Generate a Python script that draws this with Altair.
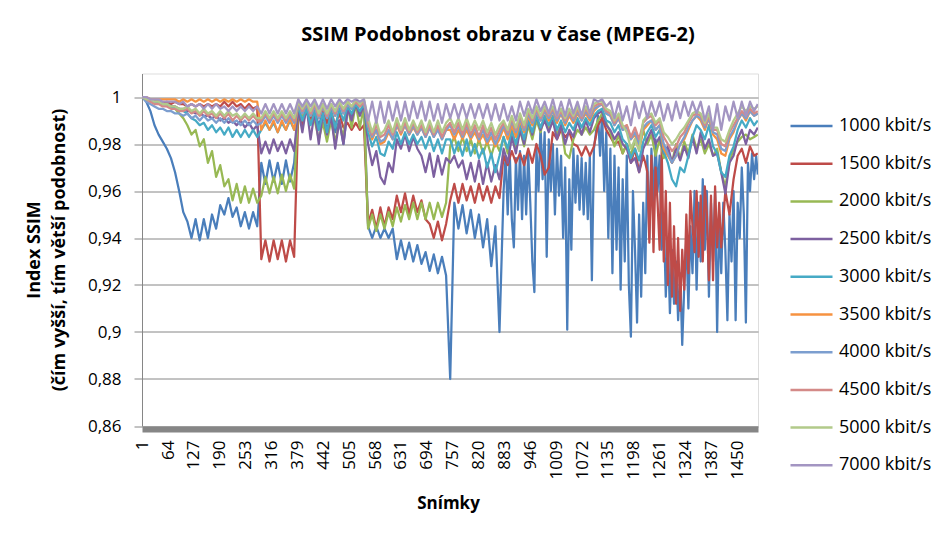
import altair as alt
import pandas as pd

frames = [1 + 10 * i for i in range(150)] + [1500]
# Finer readings (every 5th frame) where the low bit-rate curves are very jagged
blue_detail_frames = list(range(881, 1500, 5)) + [1500]
red_detail_frames = list(range(1226, 1407, 5))

series_names = ["1000 kbit/s", "1500 kbit/s", "2000 kbit/s", "2500 kbit/s", "3000 kbit/s",
                "3500 kbit/s", "4000 kbit/s", "4500 kbit/s", "5000 kbit/s", "7000 kbit/s"]
series_colors = ["#4A7EBB", "#BE4B48", "#98B954", "#7D60A0", "#46AAC5",
                 "#F69240", "#7C9ECF", "#D48A88", "#B2CA8A", "#A395C2"]

ssim_1000 = [
    1.000, 0.998, 0.994, 0.988, 0.984, 0.981, 0.978, 0.974, 0.968, 0.960,
    0.951, 0.947, 0.940, 0.948, 0.939, 0.948, 0.940, 0.950, 0.944, 0.954,
    0.950, 0.957, 0.949, 0.953, 0.945, 0.951, 0.944, 0.951, 0.945, 0.972,
    0.963, 0.973, 0.964, 0.972, 0.963, 0.973, 0.964, 0.972, 0.995, 0.993,
    0.996, 0.990, 0.994, 0.988, 0.993, 0.986, 0.992, 0.985, 0.990, 0.980,
    0.994, 0.992, 0.997, 0.993, 0.997, 0.945, 0.940, 0.945, 0.940, 0.944,
    0.940, 0.944, 0.931, 0.939, 0.931, 0.938, 0.930, 0.937, 0.929, 0.934,
    0.926, 0.933, 0.925, 0.932, 0.924, 0.880, 0.955, 0.944, 0.954, 0.942,
    0.952, 0.940, 0.950, 0.936, 0.948, 0.928, 0.945, 0.900, 0.975, 0.948,
    0.972, 0.950, 0.970, 0.945, 0.968, 0.917, 0.975, 0.960, 0.985, 0.932,
    0.980, 0.958, 0.975, 0.955, 0.901, 0.965, 0.975, 0.955, 0.970, 0.922,
    0.975, 0.990, 0.994, 0.985, 0.935, 0.970, 0.920, 0.960, 0.918, 0.898,
    0.950, 0.904, 0.955, 0.975, 0.935, 0.980, 0.920, 0.945, 0.912, 0.930,
    0.905, 0.925, 0.895, 0.920, 0.945, 0.915, 0.960, 0.930, 0.955, 0.910,
    0.950, 0.905, 0.955, 0.935, 0.905, 0.950, 0.970, 0.904, 0.975, 0.968,
    0.967,
]
ssim_1000_detail = [
    0.960, 0.975, 0.950, 0.976, 0.948, 0.936, 0.974, 0.952, 0.977, 0.948,
    0.975, 0.950, 0.976, 0.955, 0.930, 0.917, 0.978, 0.960, 0.988, 0.965,
    0.985, 0.932, 0.982, 0.960, 0.980, 0.950, 0.978, 0.958, 0.975, 0.940,
    0.970, 0.901, 0.965, 0.935, 0.978, 0.955, 0.975, 0.952, 0.974, 0.950,
    0.972, 0.948, 0.975, 0.922, 0.978, 0.985, 0.992, 0.975, 0.994, 0.960,
    0.985, 0.940, 0.978, 0.925, 0.975, 0.935, 0.970, 0.918, 0.965, 0.930,
    0.975, 0.920, 0.898, 0.960, 0.935, 0.904, 0.950, 0.915, 0.955, 0.925,
    0.975, 0.940, 0.978, 0.955, 0.982, 0.960, 0.975, 0.935, 0.950, 0.915,
    0.940, 0.908, 0.935, 0.912, 0.930, 0.905, 0.925, 0.8945, 0.920, 0.940,
    0.910, 0.945, 0.925, 0.960, 0.918, 0.955, 0.930, 0.965, 0.935, 0.960,
    0.915, 0.955, 0.930, 0.960, 0.900, 0.950, 0.925, 0.955, 0.935, 0.905,
    0.950, 0.930, 0.960, 0.905, 0.955, 0.940, 0.970, 0.950, 0.904, 0.972,
    0.960, 0.976, 0.965, 0.975, 0.967,
]

ssim_1500 = [
    1.000, 0.999, 0.999, 0.998, 0.998, 0.997, 0.998, 0.997, 0.998, 0.997,
    0.997, 0.996, 0.997, 0.996, 0.997, 0.996, 0.997, 0.996, 0.997, 0.996,
    0.998, 0.996, 0.998, 0.996, 0.997, 0.995, 0.997, 0.995, 0.996, 0.931,
    0.939, 0.930, 0.939, 0.931, 0.939, 0.930, 0.939, 0.932, 0.993, 0.988,
    0.995, 0.990, 0.996, 0.991, 0.995, 0.989, 0.994, 0.988, 0.993, 0.987,
    0.989, 0.986, 0.989, 0.986, 0.988, 0.946, 0.952, 0.944, 0.953, 0.945,
    0.953, 0.948, 0.958, 0.951, 0.959, 0.950, 0.958, 0.951, 0.956, 0.948,
    0.946, 0.940, 0.947, 0.939, 0.946, 0.956, 0.963, 0.955, 0.963, 0.956,
    0.962, 0.955, 0.963, 0.956, 0.962, 0.955, 0.962, 0.957, 0.975, 0.971,
    0.977, 0.972, 0.976, 0.971, 0.978, 0.972, 0.980, 0.975, 0.967, 0.970,
    0.985, 0.982, 0.986, 0.983, 0.985, 0.980, 0.979, 0.975, 0.979, 0.975,
    0.979, 0.988, 0.991, 0.986, 0.983, 0.980, 0.981, 0.976, 0.980, 0.972,
    0.978, 0.968, 0.975, 0.960, 0.939, 0.965, 0.950, 0.975, 0.925, 0.960,
    0.912, 0.945, 0.910, 0.930, 0.950, 0.936, 0.955, 0.930, 0.960, 0.922,
    0.965, 0.936, 0.960, 0.950, 0.965, 0.975, 0.978, 0.972, 0.979, 0.975,
    0.976,
]
ssim_1500_detail = [
    0.972, 0.968, 0.938, 0.975, 0.934, 0.970, 0.955, 0.935, 0.978, 0.930,
    0.960, 0.920, 0.955, 0.915, 0.945, 0.912, 0.940, 0.909, 0.935, 0.918,
    0.950, 0.925, 0.960, 0.945, 0.934, 0.960, 0.932, 0.958, 0.930, 0.962,
    0.950, 0.922, 0.958, 0.922, 0.962, 0.936, 0.955,
]

ssim_2000 = [
    1.000, 0.999, 0.999, 0.998, 0.998, 0.997, 0.997, 0.996, 0.995, 0.993,
    0.991, 0.988, 0.984, 0.986, 0.979, 0.982, 0.972, 0.977, 0.966, 0.971,
    0.962, 0.965, 0.956, 0.963, 0.955, 0.962, 0.955, 0.961, 0.955, 0.958,
    0.966, 0.959, 0.966, 0.959, 0.967, 0.960, 0.967, 0.961, 0.996, 0.992,
    0.994, 0.989, 0.990, 0.982, 0.989, 0.981, 0.990, 0.981, 0.989, 0.983,
    0.997, 0.987, 0.997, 0.987, 0.996, 0.944, 0.950, 0.943, 0.950, 0.944,
    0.951, 0.945, 0.953, 0.947, 0.954, 0.948, 0.955, 0.948, 0.955, 0.948,
    0.955, 0.948, 0.955, 0.949, 0.955, 0.979, 0.983, 0.977, 0.983, 0.977,
    0.982, 0.976, 0.982, 0.976, 0.981, 0.975, 0.981, 0.977, 0.983, 0.976,
    0.985, 0.978, 0.986, 0.979, 0.988, 0.982, 0.990, 0.985, 0.992, 0.986,
    0.990, 0.984, 0.988, 0.976, 0.974, 0.982, 0.986, 0.984, 0.987, 0.984,
    0.986, 0.990, 0.993, 0.989, 0.985, 0.979, 0.984, 0.976, 0.980, 0.975,
    0.982, 0.978, 0.986, 0.980, 0.984, 0.975, 0.982, 0.974, 0.978, 0.972,
    0.980, 0.974, 0.981, 0.976, 0.984, 0.978, 0.982, 0.976, 0.980, 0.975,
    0.978, 0.968, 0.962, 0.972, 0.978, 0.981, 0.983, 0.984, 0.982, 0.983,
    0.984,
]

ssim_2500 = [
    1.000, 0.999, 0.999, 0.998, 0.998, 0.997, 0.997, 0.996, 0.996, 0.995,
    0.995, 0.994, 0.994, 0.993, 0.993, 0.992, 0.992, 0.991, 0.992, 0.990,
    0.991, 0.989, 0.990, 0.988, 0.990, 0.987, 0.989, 0.986, 0.988, 0.976,
    0.981, 0.976, 0.982, 0.977, 0.981, 0.976, 0.982, 0.977, 0.995, 0.985,
    0.996, 0.982, 0.994, 0.980, 0.993, 0.984, 0.992, 0.978, 0.990, 0.980,
    0.995, 0.990, 0.997, 0.992, 0.997, 0.980, 0.971, 0.977, 0.966, 0.963,
    0.972, 0.968, 0.982, 0.978, 0.984, 0.977, 0.983, 0.978, 0.975, 0.968,
    0.976, 0.966, 0.975, 0.967, 0.974, 0.972, 0.975, 0.970, 0.973, 0.965,
    0.972, 0.964, 0.973, 0.963, 0.972, 0.964, 0.971, 0.965, 0.978, 0.972,
    0.983, 0.976, 0.986, 0.980, 0.990, 0.984, 0.992, 0.986, 0.990, 0.985,
    0.990, 0.982, 0.988, 0.980, 0.986, 0.983, 0.990, 0.984, 0.990, 0.985,
    0.991, 0.993, 0.994, 0.988, 0.986, 0.982, 0.985, 0.980, 0.978, 0.972,
    0.974, 0.968, 0.978, 0.982, 0.986, 0.980, 0.983, 0.976, 0.979, 0.972,
    0.978, 0.973, 0.979, 0.974, 0.983, 0.976, 0.985, 0.978, 0.982, 0.975,
    0.976, 0.968, 0.959, 0.972, 0.975, 0.982, 0.986, 0.980, 0.986, 0.984,
    0.987,
]

ssim_3000 = [
    1.000, 0.999, 0.999, 0.998, 0.998, 0.997, 0.997, 0.996, 0.995, 0.995,
    0.994, 0.993, 0.991, 0.990, 0.988, 0.989, 0.986, 0.988, 0.985, 0.987,
    0.984, 0.987, 0.983, 0.986, 0.983, 0.986, 0.983, 0.986, 0.983, 0.986,
    0.989, 0.986, 0.989, 0.985, 0.989, 0.986, 0.990, 0.986, 0.996, 0.990,
    0.995, 0.988, 0.994, 0.986, 0.993, 0.985, 0.994, 0.987, 0.995, 0.990,
    0.996, 0.993, 0.997, 0.994, 0.997, 0.985, 0.979, 0.983, 0.976, 0.975,
    0.981, 0.978, 0.985, 0.980, 0.985, 0.980, 0.984, 0.980, 0.983, 0.978,
    0.983, 0.977, 0.982, 0.976, 0.982, 0.982, 0.976, 0.981, 0.975, 0.982,
    0.975, 0.980, 0.974, 0.978, 0.970, 0.976, 0.968, 0.975, 0.983, 0.978,
    0.986, 0.980, 0.988, 0.982, 0.990, 0.985, 0.992, 0.987, 0.992, 0.988,
    0.992, 0.986, 0.990, 0.985, 0.989, 0.986, 0.991, 0.987, 0.991, 0.988,
    0.992, 0.994, 0.995, 0.990, 0.989, 0.985, 0.988, 0.982, 0.980, 0.974,
    0.978, 0.973, 0.981, 0.985, 0.988, 0.983, 0.986, 0.977, 0.972, 0.965,
    0.962, 0.970, 0.968, 0.975, 0.983, 0.988, 0.986, 0.982, 0.988, 0.979,
    0.976, 0.968, 0.966, 0.975, 0.979, 0.986, 0.990, 0.987, 0.991, 0.988,
    0.990,
]

ssim_3500 = [
    1.000, 1.000, 0.999, 0.999, 0.999, 0.999, 0.999, 0.999, 0.999, 0.998,
    0.999, 0.998, 0.999, 0.998, 0.999, 0.998, 0.999, 0.998, 0.999, 0.998,
    0.999, 0.998, 0.999, 0.998, 0.999, 0.998, 0.999, 0.998, 0.998, 0.986,
    0.990, 0.986, 0.990, 0.985, 0.990, 0.986, 0.991, 0.986, 0.997, 0.993,
    0.997, 0.992, 0.996, 0.991, 0.996, 0.991, 0.996, 0.992, 0.997, 0.993,
    0.997, 0.995, 0.998, 0.996, 0.998, 0.988, 0.982, 0.986, 0.980, 0.981,
    0.985, 0.982, 0.988, 0.984, 0.988, 0.984, 0.987, 0.984, 0.987, 0.983,
    0.987, 0.983, 0.987, 0.982, 0.986, 0.986, 0.982, 0.986, 0.982, 0.986,
    0.982, 0.985, 0.981, 0.984, 0.980, 0.983, 0.979, 0.982, 0.987, 0.982,
    0.988, 0.983, 0.990, 0.985, 0.992, 0.988, 0.994, 0.990, 0.994, 0.990,
    0.994, 0.989, 0.993, 0.988, 0.992, 0.989, 0.993, 0.990, 0.993, 0.990,
    0.994, 0.996, 0.997, 0.993, 0.992, 0.988, 0.991, 0.986, 0.988, 0.982,
    0.984, 0.978, 0.986, 0.988, 0.990, 0.986, 0.988, 0.978, 0.975, 0.972,
    0.975, 0.980, 0.982, 0.986, 0.990, 0.992, 0.990, 0.986, 0.991, 0.984,
    0.982, 0.976, 0.975, 0.982, 0.985, 0.990, 0.993, 0.990, 0.994, 0.992,
    0.993,
]

ssim_4000 = [
    1.000, 0.998, 0.997, 0.996, 0.995, 0.995, 0.994, 0.994, 0.993, 0.993,
    0.992, 0.993, 0.991, 0.992, 0.990, 0.992, 0.990, 0.991, 0.989, 0.991,
    0.989, 0.991, 0.989, 0.990, 0.988, 0.990, 0.988, 0.990, 0.988, 0.989,
    0.992, 0.989, 0.992, 0.989, 0.992, 0.989, 0.992, 0.989, 0.997, 0.993,
    0.997, 0.992, 0.996, 0.991, 0.996, 0.991, 0.996, 0.992, 0.997, 0.993,
    0.997, 0.995, 0.998, 0.996, 0.998, 0.988, 0.983, 0.986, 0.981, 0.982,
    0.986, 0.982, 0.988, 0.985, 0.988, 0.984, 0.988, 0.984, 0.987, 0.983,
    0.987, 0.983, 0.986, 0.982, 0.986, 0.988, 0.984, 0.988, 0.983, 0.988,
    0.983, 0.987, 0.982, 0.986, 0.981, 0.985, 0.980, 0.984, 0.988, 0.984,
    0.990, 0.985, 0.991, 0.986, 0.993, 0.989, 0.994, 0.990, 0.994, 0.991,
    0.994, 0.990, 0.993, 0.989, 0.993, 0.990, 0.994, 0.990, 0.994, 0.991,
    0.995, 0.996, 0.997, 0.993, 0.992, 0.988, 0.991, 0.986, 0.987, 0.982,
    0.985, 0.980, 0.987, 0.989, 0.990, 0.986, 0.988, 0.980, 0.976, 0.972,
    0.975, 0.980, 0.983, 0.987, 0.990, 0.992, 0.991, 0.987, 0.991, 0.985,
    0.984, 0.978, 0.977, 0.983, 0.986, 0.990, 0.993, 0.991, 0.994, 0.992,
    0.993,
]

ssim_4500 = [
    1.000, 0.999, 0.998, 0.997, 0.997, 0.996, 0.996, 0.995, 0.995, 0.994,
    0.994, 0.995, 0.993, 0.994, 0.992, 0.994, 0.992, 0.993, 0.991, 0.993,
    0.991, 0.993, 0.990, 0.992, 0.990, 0.992, 0.990, 0.992, 0.990, 0.990,
    0.993, 0.990, 0.993, 0.990, 0.993, 0.990, 0.993, 0.990, 0.998, 0.994,
    0.998, 0.993, 0.997, 0.992, 0.997, 0.992, 0.997, 0.993, 0.998, 0.994,
    0.998, 0.996, 0.998, 0.996, 0.998, 0.989, 0.984, 0.988, 0.983, 0.984,
    0.988, 0.984, 0.989, 0.985, 0.989, 0.985, 0.989, 0.985, 0.988, 0.984,
    0.988, 0.984, 0.988, 0.983, 0.987, 0.989, 0.985, 0.989, 0.984, 0.989,
    0.984, 0.988, 0.983, 0.988, 0.983, 0.987, 0.982, 0.986, 0.989, 0.985,
    0.991, 0.986, 0.992, 0.987, 0.994, 0.990, 0.995, 0.991, 0.995, 0.992,
    0.995, 0.991, 0.994, 0.990, 0.994, 0.991, 0.995, 0.991, 0.995, 0.992,
    0.996, 0.997, 0.997, 0.994, 0.993, 0.989, 0.992, 0.987, 0.988, 0.983,
    0.987, 0.982, 0.989, 0.991, 0.992, 0.988, 0.990, 0.983, 0.980, 0.977,
    0.979, 0.983, 0.985, 0.989, 0.992, 0.993, 0.992, 0.988, 0.992, 0.986,
    0.986, 0.980, 0.979, 0.985, 0.988, 0.991, 0.994, 0.992, 0.995, 0.993,
    0.994,
]

ssim_5000 = [
    1.000, 0.999, 0.999, 0.998, 0.998, 0.997, 0.997, 0.996, 0.996, 0.995,
    0.995, 0.996, 0.994, 0.995, 0.993, 0.995, 0.993, 0.994, 0.992, 0.994,
    0.992, 0.994, 0.992, 0.993, 0.991, 0.993, 0.991, 0.993, 0.991, 0.991,
    0.994, 0.991, 0.994, 0.991, 0.994, 0.991, 0.994, 0.991, 0.998, 0.995,
    0.998, 0.994, 0.998, 0.993, 0.997, 0.993, 0.997, 0.994, 0.998, 0.995,
    0.998, 0.996, 0.999, 0.997, 0.999, 0.991, 0.985, 0.990, 0.984, 0.986,
    0.990, 0.985, 0.991, 0.986, 0.991, 0.986, 0.990, 0.986, 0.990, 0.985,
    0.990, 0.985, 0.990, 0.985, 0.989, 0.991, 0.987, 0.991, 0.986, 0.991,
    0.986, 0.990, 0.986, 0.990, 0.985, 0.989, 0.984, 0.988, 0.990, 0.986,
    0.992, 0.987, 0.993, 0.988, 0.995, 0.991, 0.996, 0.992, 0.996, 0.993,
    0.996, 0.992, 0.995, 0.991, 0.995, 0.992, 0.996, 0.992, 0.996, 0.993,
    0.997, 0.998, 0.998, 0.995, 0.994, 0.990, 0.993, 0.988, 0.985, 0.978,
    0.982, 0.977, 0.990, 0.992, 0.993, 0.989, 0.991, 0.985, 0.983, 0.980,
    0.982, 0.985, 0.987, 0.990, 0.993, 0.994, 0.993, 0.989, 0.993, 0.987,
    0.987, 0.982, 0.981, 0.986, 0.990, 0.993, 0.996, 0.994, 0.996, 0.995,
    0.996,
]

ssim_7000 = [
    1.000, 1.000, 0.999, 0.999, 0.999, 0.998, 0.998, 0.998, 0.998, 0.997,
    0.998, 0.996, 0.997, 0.996, 0.997, 0.995, 0.997, 0.995, 0.997, 0.995,
    0.996, 0.994, 0.996, 0.994, 0.996, 0.994, 0.996, 0.994, 0.996, 0.993,
    0.997, 0.993, 0.997, 0.993, 0.997, 0.993, 0.997, 0.993, 0.999, 0.996,
    0.999, 0.996, 0.999, 0.995, 0.999, 0.995, 0.999, 0.996, 0.999, 0.997,
    0.999, 0.998, 0.999, 0.998, 0.999, 0.990, 0.998, 0.989, 0.998, 0.989,
    0.998, 0.990, 0.998, 0.990, 0.998, 0.990, 0.998, 0.991, 0.998, 0.990,
    0.998, 0.990, 0.997, 0.989, 0.997, 0.991, 0.997, 0.991, 0.997, 0.991,
    0.997, 0.991, 0.997, 0.991, 0.997, 0.990, 0.997, 0.990, 0.997, 0.990,
    0.996, 0.990, 0.998, 0.992, 0.998, 0.993, 0.999, 0.994, 0.998, 0.993,
    0.999, 0.992, 0.998, 0.992, 0.999, 0.993, 0.998, 0.992, 0.999, 0.993,
    0.999, 0.998, 0.999, 0.996, 0.998, 0.991, 0.998, 0.990, 0.996, 0.988,
    0.998, 0.991, 0.998, 0.991, 0.998, 0.992, 0.998, 0.990, 0.997, 0.990,
    0.998, 0.991, 0.998, 0.992, 0.998, 0.993, 0.998, 0.990, 0.996, 0.986,
    0.997, 0.986, 0.996, 0.990, 0.998, 0.991, 0.998, 0.992, 0.998, 0.994,
    0.997,
]

all_series = [ssim_1000, ssim_1500, ssim_2000, ssim_2500, ssim_3000,
              ssim_3500, ssim_4000, ssim_4500, ssim_5000, ssim_7000]
# finer readings replace the coarse ones inside their frame window
details = {
    "1000 kbit/s": (blue_detail_frames, ssim_1000_detail),
    "1500 kbit/s": (red_detail_frames, ssim_1500_detail),
}

x_tick_values = [1, 64, 127, 190, 253, 316, 379, 442, 505, 568, 631, 694,
                 757, 820, 883, 946, 1009, 1072, 1135, 1198, 1261, 1324, 1387, 1450]
y_tick_values = [0.86, 0.88, 0.9, 0.92, 0.94, 0.96, 0.98, 1.0]

rows = []
for order, (name, vals) in enumerate(zip(series_names, all_series)):
    pts = list(zip(frames, vals))
    if name in details:
        dfr, dvals = details[name]
        lo, hi = min(dfr), max(dfr)
        pts = [p for p in pts if p[0] < lo - 4 or p[0] > hi + 4] + list(zip(dfr, dvals))
        pts.sort()
    for f, v in pts:
        rows.append({"Snímek": f, "SSIM": v, "Datový tok": name, "poradi": order})
df = pd.DataFrame(rows)

FONT = "Open Sans"
GRAY = "#868686"

chart = alt.Chart(df).mark_line(strokeWidth=2.25, strokeJoin="round", clip=True).encode(
    x=alt.X(
        "Snímek:Q",
        scale=alt.Scale(domain=[0.5, 1500.5], nice=False, zero=False),
        axis=alt.Axis(
            values=x_tick_values, format="d", labelAngle=-90, labelFlush=False,
            labelOverlap=False, labelFontSize=17, labelFont=FONT, labelColor="black",
            labelPadding=11, ticks=False, grid=False, domainWidth=6,
            domainColor=GRAY, offset=3,
            title="Snímky", titleFont=FONT, titleFontSize=17, titleFontWeight="bold",
            titleColor="black", titleX=306, titleY=74, titleBaseline="middle",
            titleAlign="center",
        ),
    ),
    y=alt.Y(
        "SSIM:Q",
        scale=alt.Scale(domain=[0.86, 1.01], nice=False, zero=False),
        axis=alt.Axis(
            values=y_tick_values, labelExpr="replace('' + datum.value, '.', ',')",
            labelFlush=False, labelFontSize=17, labelFont=FONT, labelColor="black",
            tickSize=8, tickColor=GRAY, labelPadding=13, domainColor=GRAY,
            grid=True, gridColor=GRAY, gridWidth=1,
            title=["Index SSIM", "(čím vyšší, tím větší podobnost)"],
            titleFont=FONT, titleFontSize=18, titleFontWeight="bold", titleColor="black",
            titleLineHeight=25, titleX=-108, titleY=176, titleBaseline="middle",
            titleAlign="center", titleAngle=270,
        ),
    ),
    color=alt.Color(
        "Datový tok:N",
        sort=series_names,
        scale=alt.Scale(domain=series_names, range=series_colors),
        legend=alt.Legend(
            title=None, orient="none", legendX=647, legendY=30, padding=0,
            symbolType="stroke", symbolSize=1764, symbolStrokeWidth=2.5,
            labelFont=FONT, labelFontSize=18, labelColor="black", labelOffset=5,
            rowPadding=5.7,
        ),
    ),
    order=alt.Order("Snímek:Q"),
).properties(
    width=616,
    height=352.5,
    autosize=alt.AutoSizeParams(type="none"),
    padding={"left": 134, "top": 65.5, "right": 186, "bottom": 102},
    title=alt.TitleParams(
        "SSIM Podobnost obrazu v čase (MPEG-2)", font=FONT, fontSize=20,
        fontWeight="bold", color="black", anchor="middle", dx=48, offset=13,
        baseline="alphabetic",
    ),
).configure_view(stroke=None).configure(background="white")

chart.save("out.html", embed_options={"renderer": "svg", "actions": False})
